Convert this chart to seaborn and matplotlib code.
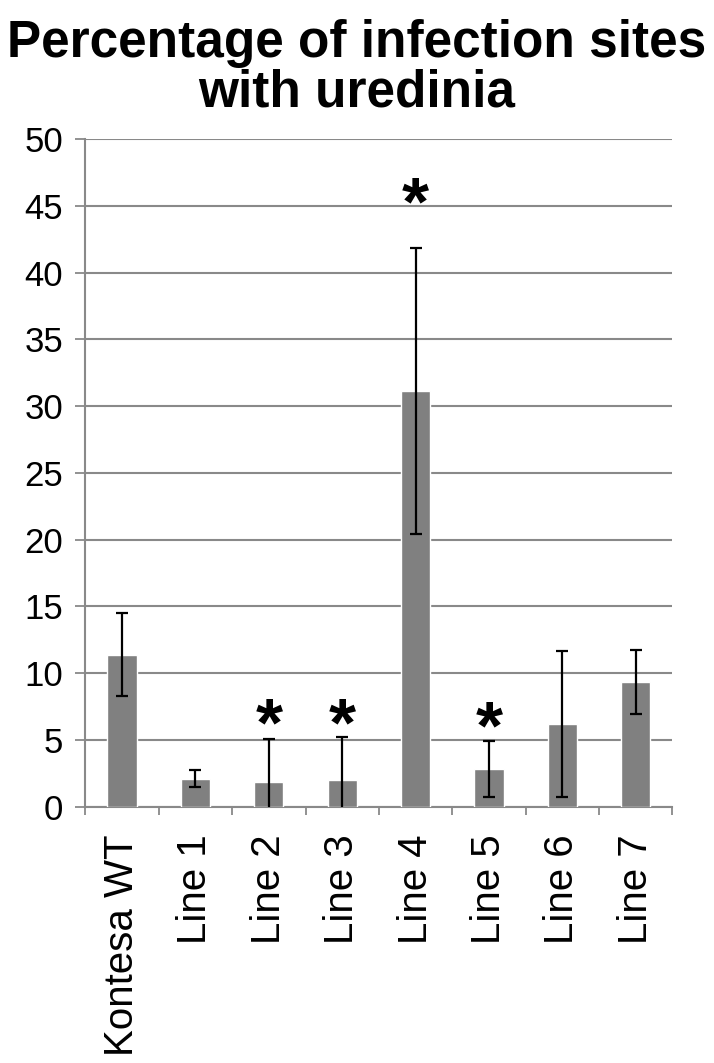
import matplotlib
matplotlib.use("Agg")
import matplotlib.pyplot as plt
import seaborn as sns
import pandas as pd

# values
categories = ["Kontesa WT", "Line 1", "Line 2", "Line 3", "Line 4", "Line 5", "Line 6", "Line 7"]
means = [11.4, 2.1, 1.85, 2.0, 31.15, 2.8, 6.2, 9.35]
errors = [3.1, 0.65, 3.25, 3.2, 10.7, 2.1, 5.5, 2.4]
star_heights = [None, None, 7.3, 7.3, 46.3, 7.1, None, None]  # centre of the "*" marks
y_ticks = [0, 5, 10, 15, 20, 25, 30, 35, 40, 45, 50]

GRID = "#898989"
BAR = "#808080"

sns.set_theme(style="white")
plt.rcParams["font.family"] = ["Liberation Sans", "DejaVu Sans"]
plt.rcParams["text.color"] = "black"

df = pd.DataFrame({"line": categories, "pct": means, "err": errors})

fig = plt.figure(figsize=(7.14, 10.63), dpi=100)
ax = fig.add_axes([0.1197, 0.2411, 0.8218, 0.6279])

sns.barplot(data=df, x="line", y="pct", color=BAR, saturation=1,
            width=0.4, errorbar=None, ax=ax, zorder=3)

# --- error bars at the bar centres ---
xs = [p.get_x() + p.get_width() / 2 for p in ax.patches]
ax.errorbar(xs, df["pct"], yerr=df["err"], fmt="none", ecolor="black",
            elinewidth=1.6, capsize=4.5, capthick=1.6, zorder=4)

# --- significance stars ---
for x, h in zip(xs, star_heights):
    if h is None:
        continue
    ax.annotate("*", xy=(x, h), xytext=(0, -26), textcoords="offset points",
                ha="center", va="baseline", fontsize=50, fontweight="bold",
                color="black", zorder=5)

# --- axes styling ---
ax.set_ylim(0, 50)
ax.set_xlim(-0.5, len(categories) - 0.5)
ax.set_yticks(y_ticks)
ax.set_axisbelow(True)
ax.yaxis.grid(True, color=GRID, linewidth=1.5)
ax.xaxis.grid(False)

ax.set_xticks([i - 0.5 for i in range(len(categories) + 1)], minor=True)
ax.tick_params(axis="y", left=True, length=7, width=1.3, color=GRID,
               labelsize=25, pad=9, labelcolor="black")
ax.tick_params(axis="x", which="major", bottom=False, length=0, pad=20,
               labelsize=29, labelrotation=90, labelcolor="black")
ax.tick_params(axis="x", which="minor", bottom=True, length=6, width=1.3, color=GRID)

for side in ["top", "right"]:
    ax.spines[side].set_visible(False)
for side in ["left", "bottom"]:
    ax.spines[side].set_color(GRID)
    ax.spines[side].set_linewidth(1.5)

ax.set_xlabel("")
ax.set_ylabel("")

fig.text(0.5, 1 - 19 / 1063, "Percentage of infection sites\nwith uredinia",
         ha="center", va="top", fontsize=37, fontweight="bold",
         color="black", linespacing=1.02)

fig.savefig("out.png", dpi=100)
